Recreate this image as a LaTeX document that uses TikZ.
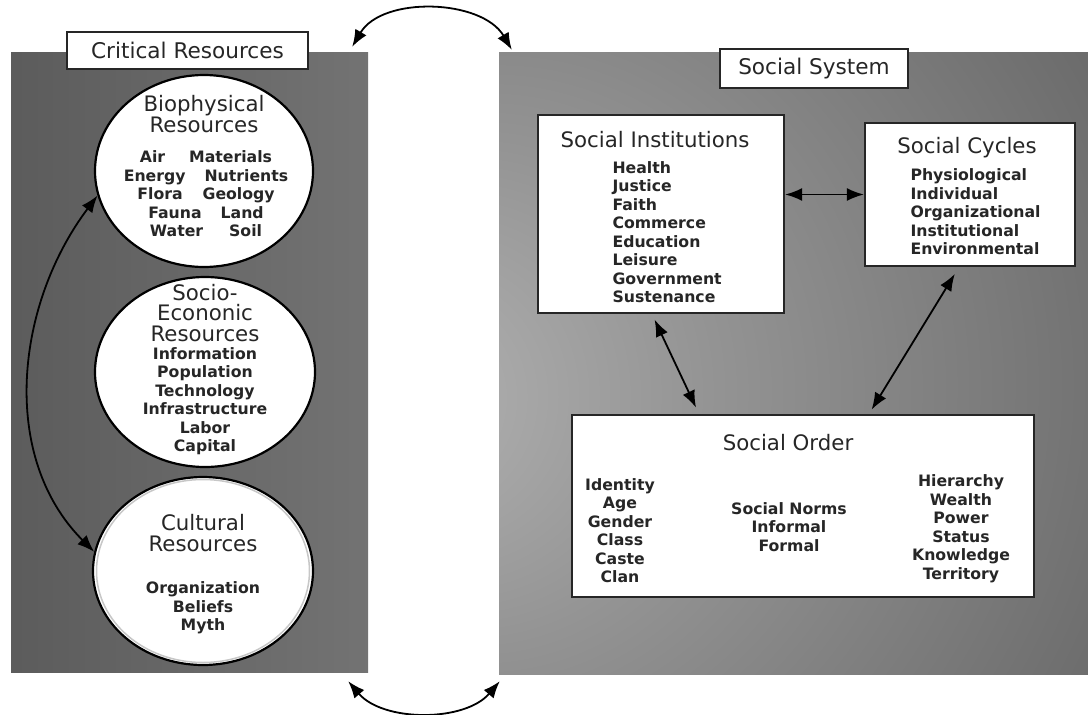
\documentclass[tikz,border=0pt]{standalone}
\usepackage{fontspec}
\setmainfont{DejaVu Sans}
\usetikzlibrary{arrows.meta,positioning,shapes.geometric}

\pgfdeclareradialshading{socshade}{\pgfpoint{-34bp}{-3bp}}{%
  color(0bp)=(black!30); color(20bp)=(black!42); color(50bp)=(black!58);
  color(85bp)=(black!68); color(100bp)=(black!70)}

\tikzset{
  panel/.style={rectangle, draw=none, inner sep=0pt},
  lbl/.style={rectangle, draw=black!85, line width=2.5pt, fill=white, inner sep=0pt,
    font=\fontsize{21.6}{18}\selectfont, text=black!85},
  res/.style={ellipse, draw=black, line width=2.2pt, fill=white, inner sep=0pt},
  box/.style={rectangle, draw=black!85, line width=2.2pt, fill=white, inner sep=0pt},
  ttl/.style={align=center, font=\fontsize{21.3}{20.5}\selectfont, text=black!85},
  itm/.style={align=center, font=\fontsize{15.7}{18.5}\selectfont\bfseries, text=black!85},
  link/.style={line width=1.8pt, {Latex[length=17pt,width=13pt]}-{Latex[length=17pt,width=13pt]}},
}

\begin{document}
\begin{tikzpicture}[x=1pt,y=-1pt]
    \useasboundingbox (0,0) rectangle (1088,715);
    % Panels:
    \node[panel, left color=black!64, right color=black!55,
      minimum width=357pt, minimum height=620pt] (crit) at (189.5,362) {};
    \node[panel, shading=socshade,
      minimum width=589pt, minimum height=622pt] (soc) at (793.5,363) {};
    \node[lbl, minimum width=241pt, minimum height=37pt] (critlbl) at (187.5,50.5) {Critical Resources};
    \node[lbl, minimum width=188pt, minimum height=39pt] (soclbl) at (814,68.5) {Social System};

    % Critical resources:
    \node[res, minimum width=218pt, minimum height=192pt] (bio) at (204,171) {};
    \node[ttl] (bio-t) at (204,114) {Biophysical\\Resources};
    \node[itm] (bio-i) at (206,194) {Air\hspace{24pt}Materials\\Energy\hspace{19pt}Nutrients\\
      Flora\hspace{20pt}Geology\\Fauna\hspace{19pt}Land\\Water\hspace{26pt}Soil};
    \node[res, minimum width=220pt, minimum height=190pt] (eco) at (205,372) {};
    \node[ttl] (eco-t) at (205,313) {Socio-\\Econonic\\Resources};
    \node[itm] (eco-i) at (205,401) {Information\\Population\\Technology\\Infrastructure\\Labor\\Capital};
    \node[res, minimum width=220pt, minimum height=188pt] (cul) at (203,571) {};
    \draw[black!22, line width=1.5pt] (cul.center) ellipse [x radius=106.5pt, y radius=91.5pt];
    \node[ttl] (cul-t) at (203,533) {Cultural\\Resources};
    \node[itm] (cul-i) at (203,608) {Organization\\Beliefs\\Myth};

    % Social system:
    \node[box, minimum width=246pt, minimum height=198pt] (inst) at (661,214) {};
    \node[ttl] (inst-t) at (655,140) {Social Institutions};
    \node[itm, align=left, anchor=west] (inst-i) at (609,232)
      {Health\\Justice\\Faith\\Commerce\\Education\\Leisure\\Government\\Sustenance};
    \node[box, minimum width=210pt, minimum height=143pt] (cyc) at (970,194.5) {};
    \node[ttl] (cyc-t) at (967,148) {Social Cycles};
    \node[itm, align=left, anchor=west] (cyc-i) at (907,212)
      {Physiological\\Individual\\Organizational\\Institutional\\Environmental};
    \node[box, minimum width=462pt, minimum height=182pt] (ord) at (803,506) {};
    \node[ttl] (ord-t) at (788,443) {Social Order};
    \node[itm] (ord-l) at (620,530.5) {Identity\\Age\\Gender\\Class\\Caste\\Clan};
    \node[itm] (ord-m) at (789,527) {Social Norms\\Informal\\Formal};
    \node[itm] (ord-r) at (961,528.5) {Hierarchy\\Wealth\\Power\\Status\\Knowledge\\Territory};

    % Links:
    \draw[link] (bio.193) .. controls +(-82,109) and +(-95,-95) .. (cul.170);
    \draw[link] ([shift={(-16,-5)}]crit.north east) .. controls +(30,-51) and +(-30,-51) .. ([shift={(13,-2)}]soc.north west);
    \draw[link] ([shift={(-20,9)}]crit.south east) .. controls +(35,41) and +(-35,41) .. ([shift={(1,7)}]soc.south west);
    \draw[link] (inst.east |- cyc.west) -- (cyc.west);
    \draw[link, shorten <=6pt, shorten >=7pt] ([xshift=-9pt]inst.south) -- ([xshift=-104pt]ord.north);
    \draw[link, shorten <=8pt, shorten >=5pt] ([xshift=-11pt]cyc.south) -- ([xshift=66pt]ord.north);
\end{tikzpicture}
\end{document}
